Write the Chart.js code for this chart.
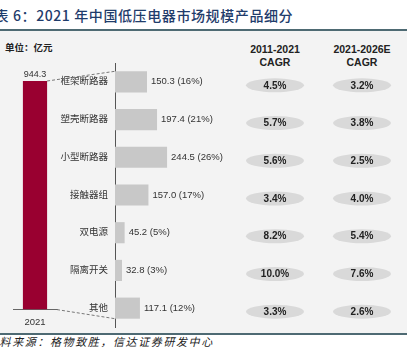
<!DOCTYPE html>
<html>
<head>
<meta charset="utf-8">
<script src="https://cdn.jsdelivr.net/npm/chart.js@4.4.1/dist/chart.umd.min.js"></script>
<style>
  body { margin: 0; background: #fff; }
  #wrap { position: relative; width: 419px; height: 363px; overflow: hidden; font-family: "Liberation Sans", "Noto Sans CJK SC", sans-serif; }
  #panel { position: absolute; left: 0; top: 29px; width: 407px; height: 302px; background: #f3f3f3; border-top: 2px solid #4e6a73; border-bottom: 2px solid #4e6a73; }
  #title { position: absolute; left: -20px; top: 5px; font-family: "Noto Sans CJK SC", sans-serif; font-weight: 500; font-size: 14px; letter-spacing: 0.6px; color: #1f3c6b; white-space: nowrap; }
  #unit { position: absolute; left: 5px; top: 40px; font-family: "Noto Sans CJK SC", sans-serif; font-weight: 700; font-size: 9.5px; color: #222; }
  .head { position: absolute; top: 43px; width: 80px; text-align: center; font-weight: 700; font-size: 10.5px; line-height: 13px; color: #222; }
  #source { position: absolute; left: -13px; top: 333px; font-family: "Noto Sans CJK SC", sans-serif; font-style: italic; font-size: 11px; letter-spacing: 1.6px; color: #222; white-space: nowrap; }
  canvas { position: absolute; left: 0; top: 0; }
</style>
</head>
<body>
<div id="wrap">
  <div id="panel"></div>
  <div id="title">图表 6：2021 年中国低压电器市场规模产品细分</div>
  <div id="unit">单位：亿元</div>
  <div class="head" style="left:235px">2011-2021<br>CAGR</div>
  <div class="head" style="left:322px">2021-2026E<br>CAGR</div>
  <div id="source">资料来源：格物致胜，信达证券研发中心</div>
  <canvas id="totalChart" width="419" height="363"></canvas>
  <canvas id="splitChart" width="419" height="363"></canvas>
</div>
<script>
const totalYear = ['2021'];
const totalValue = [944.3];

const categories = ['框架断路器', '塑壳断路器', '小型断路器', '接触器组', '双电源', '隔离开关', '其他'];
const values = [150.3, 197.4, 244.5, 157.0, 45.2, 32.8, 117.1];
const shares = [16, 21, 26, 17, 5, 3, 12];
const cagrHist = ['4.5%', '5.7%', '5.6%', '3.4%', '8.2%', '10.0%', '3.3%'];
const cagrFcst = ['3.2%', '3.8%', '2.5%', '4.0%', '5.4%', '7.6%', '2.6%'];

const labelFont = "Liberation Sans, Noto Sans CJK SC, sans-serif";

const totalLabel = {
  id: 'totalLabel',
  afterDatasetsDraw(chart) {
    const ctx = chart.ctx;
    const bar = chart.getDatasetMeta(0).data[0];
    ctx.save();
    ctx.font = '9px ' + labelFont;
    ctx.fillStyle = '#333';
    ctx.textAlign = 'center';
    ctx.textBaseline = 'bottom';
    ctx.fillText(totalValue[0].toFixed(1), bar.x, bar.y - 2);
    ctx.restore();
  }
};

const totalChart = new Chart(document.getElementById('totalChart'), {
  type: 'bar',
  data: {
    labels: totalYear,
    datasets: [{ data: totalValue, backgroundColor: '#990030', barPercentage: 0.55, categoryPercentage: 1 }]
  },
  options: {
    responsive: false,
    animation: false,
    layout: { padding: { left: 13, right: 362, top: 81, bottom: 28 } },
    plugins: { legend: { display: false }, tooltip: { enabled: false } },
    scales: {
      x: {
        grid: { display: false, drawTicks: false },
        border: { color: '#666' },
        ticks: { color: '#333', font: { size: 9.5, family: labelFont }, padding: 7 }
      },
      y: { display: false, min: 0, max: 944.3 }
    }
  },
  plugins: [totalLabel]
});

const splitExtras = {
  id: 'splitExtras',
  afterDatasetsDraw(chart) {
    const ctx = chart.ctx;
    const bars = chart.getDatasetMeta(0).data;
    ctx.save();

    // value labels
    ctx.font = '9.5px ' + labelFont;
    ctx.fillStyle = '#333';
    ctx.textAlign = 'left';
    ctx.textBaseline = 'middle';
    bars.forEach((b, i) => {
      ctx.fillText(values[i].toFixed(1) + ' (' + shares[i] + '%)', b.x + 4, b.y);
    });

    // dashed connectors to the total bar
    const red = totalChart.getDatasetMeta(0).data[0];
    const first = bars[0];
    const last = bars[bars.length - 1];
    ctx.strokeStyle = '#777';
    ctx.lineWidth = 1;
    ctx.setLineDash([3, 2]);
    ctx.beginPath();
    ctx.moveTo(red.x + red.width / 2, red.y);
    ctx.lineTo(chart.chartArea.left, first.y - first.height / 2);
    ctx.moveTo(totalChart.chartArea.right, totalChart.chartArea.bottom);
    ctx.lineTo(chart.chartArea.left, last.y + last.height / 2);
    ctx.stroke();
    ctx.setLineDash([]);

    // CAGR pills
    const cols = [[275, cagrHist], [362, cagrFcst]];
    ctx.font = 'bold 10px ' + labelFont;
    ctx.textAlign = 'center';
    bars.forEach((b, i) => {
      const y = b.y + 3.5;
      cols.forEach(([cx, arr]) => {
        ctx.fillStyle = '#d9d9d9';
        ctx.beginPath();
        ctx.ellipse(cx, y, 29, 7, 0, 0, Math.PI * 2);
        ctx.fill();
        ctx.fillStyle = '#222';
        ctx.fillText(arr[i], cx, y + 0.5);
      });
    });
    ctx.restore();
  }
};

new Chart(document.getElementById('splitChart'), {
  type: 'bar',
  data: {
    labels: categories,
    datasets: [{ data: values, backgroundColor: '#c8c8c8', barPercentage: 0.56, categoryPercentage: 1 }]
  },
  options: {
    indexAxis: 'y',
    responsive: false,
    animation: false,
    layout: { padding: { left: 0, right: 91, top: 63, bottom: 36 } },
    plugins: { legend: { display: false }, tooltip: { enabled: false } },
    scales: {
      x: { display: false, min: 0, max: 1000 },
      y: {
        afterFit: (s) => { s.width = 115; },
        grid: { display: false, drawTicks: false },
        border: { color: '#555' },
        ticks: { color: '#333', font: { size: 9.5, family: labelFont }, padding: 7 }
      }
    }
  },
  plugins: [splitExtras]
});
</script>
</body>
</html>
